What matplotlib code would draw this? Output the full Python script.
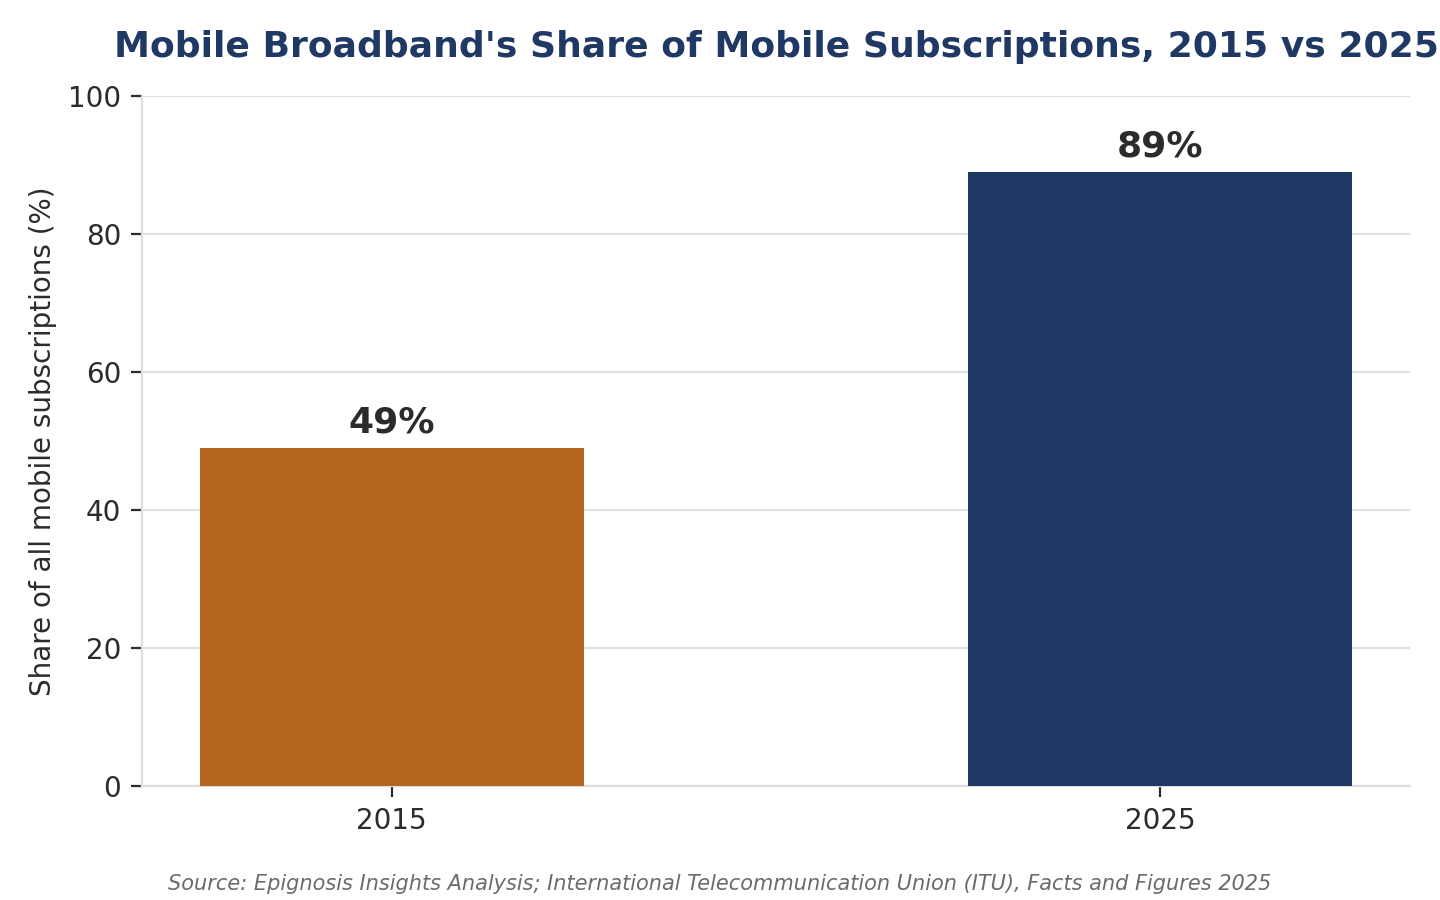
import matplotlib.pyplot as plt

# data
years = ['2015', '2025']
share = [49, 89]
bar_colors = ['#b5661e', '#203864']

fig = plt.figure(figsize=(7.2, 4.5), dpi=200)
ax = fig.add_axes([0.0986, 0.1267, 0.8806, 0.7666])

x = range(len(years))
ax.bar(x, share, width=0.5, color=bar_colors, zorder=3)

# value labels above bars
for i, v in enumerate(share):
  ax.annotate('{}%'.format(v), (i, v), xytext=(0, 3), textcoords='offset points',
              ha='center', va='bottom', fontsize=13, fontweight='bold', color='#2b2b2b')

ax.set_xticks(list(x))
ax.set_xticklabels(years)
ax.set_xlim(-0.325, 1.325)
ax.set_ylim(0, 100)
ax.set_yticks([0, 20, 40, 60, 80, 100])

ax.grid(axis='y', color='#e0e0dc', lw=0.8, zorder=0)
for s in ['top', 'right']:
  ax.spines[s].set_visible(False)
for s in ['left', 'bottom']:
  ax.spines[s].set_color('#dddddd')
  ax.spines[s].set_linewidth(0.8)
ax.tick_params(colors='#2b2b2b', labelsize=10, length=4, width=0.8, pad=3.5)

ax.set_ylabel('Share of all mobile subscriptions (%)', fontsize=10, color='#2b2b2b', labelpad=4)
ax.set_title("Mobile Broadband's Share of Mobile Subscriptions, 2015 vs 2025",
             fontsize=13, fontweight='bold', color='#1f3864', pad=14)

fig.text(0.5, 0.0178, 'Source: Epignosis Insights Analysis; International Telecommunication Union (ITU), Facts and Figures 2025',
         ha='center', va='center', fontsize=7.5, style='italic', color='#6b6b6b')

fig.savefig('out.png', dpi=200)
